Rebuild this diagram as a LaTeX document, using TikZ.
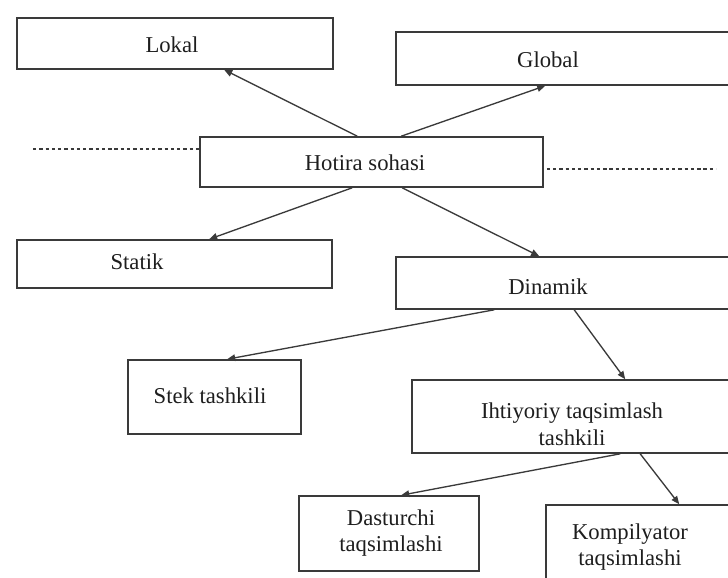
\documentclass[tikz,border=0pt]{standalone}
\usepackage{fontspec}
\setmainfont{Liberation Serif}
\usetikzlibrary{fit,calc,arrows.meta}
\definecolor{ink}{HTML}{3A3A3A}
\definecolor{txt}{HTML}{1E1E1E}
\begin{document}
\begin{tikzpicture}[x=0.75pt,y=-0.75pt,
  box/.style={draw=ink, line width=1.2pt, inner sep=0pt, rectangle},
  lbl/.style={text=txt, font=\fontsize{17}{20}\selectfont, align=center, inner sep=0pt},
  link/.style={draw=ink, line width=1pt, -{Triangle[length=6pt,width=5pt]}},
  guide/.style={draw=ink, line width=1.3pt, dash pattern=on 2.5pt off 2.2pt}]
\useasboundingbox (0,0) rectangle (728,578);

% boxes
\node[box, fit={(17,18) (333,69)}] (lokal) {};
\node[box, fit={(396,32) (760,85)}] (global) {};
\node[box, fit={(200,137) (543,187)}] (hotira) {};
\node[box, fit={(17,240) (332,288)}] (statik) {};
\node[box, fit={(396,257) (760,309)}] (dinamik) {};
\node[box, fit={(128,360) (301,434)}] (stek) {};
\node[box, fit={(412,380) (760,453)}] (ixtiyor) {};
\node[box, fit={(299,496) (479,571)}] (dasturchi) {};
\node[box, fit={(546,505) (760,600)}] (kompil) {};

% texts
\node[lbl] (lokal-t) at (172,45) {Lokal};
\node[lbl] (global-t) at (548,60) {Global};
\node[lbl] (hotira-t) at (365,163) {Hotira sohasi};
\node[lbl] (statik-t) at (137,262) {Statik};
\node[lbl] (dinamik-t) at (548,287) {Dinamik};
\node[lbl] (stek-t) at (210,396) {Stek tashkili};
\node[lbl] (ixtiyor-t) at (572,424) {Ihtiyoriy taqsimlash\\tashkili};
\node[lbl] (dasturchi-t) at (391,533) {Dasturchi\\taqsimlashi};
\node[lbl] (kompil-t) at (630,547) {Kompilyator\\taqsimlashi};

% dotted guide lines
\coordinate (dl) at (33,149);
\coordinate (dr) at (716,169);
\draw[guide] (dl) -- (dl -| hotira.west);
\draw[guide] ($(hotira.east |- dr)+(3,0)$) -- (dr);

% connectors
\draw[link] ($(hotira.north west)+(158,0)$) -- ($(lokal.south west)+(208,0)$);
\draw[link] ($(hotira.north west)+(202,0)$) -- ($(global.south west)+(150,0)$);
\draw[link] ($(hotira.south west)+(153,0)$) -- ($(statik.north west)+(193,0)$);
\draw[link] ($(hotira.south west)+(203,0)$) -- ($(dinamik.north west)+(144,0)$);
\draw[link] ($(dinamik.south west)+(99,0)$) -- ($(stek.north west)+(100,0)$);
\draw[link] ($(dinamik.south west)+(179,0)$) -- ($(ixtiyor.north west)+(214,0)$);
\draw[link] ($(ixtiyor.south west)+(209,0)$) -- ($(dasturchi.north west)+(103,0)$);
\draw[link] ($(ixtiyor.south west)+(229,0)$) -- ($(kompil.north west)+(134,0)$);
\end{tikzpicture}
\end{document}
